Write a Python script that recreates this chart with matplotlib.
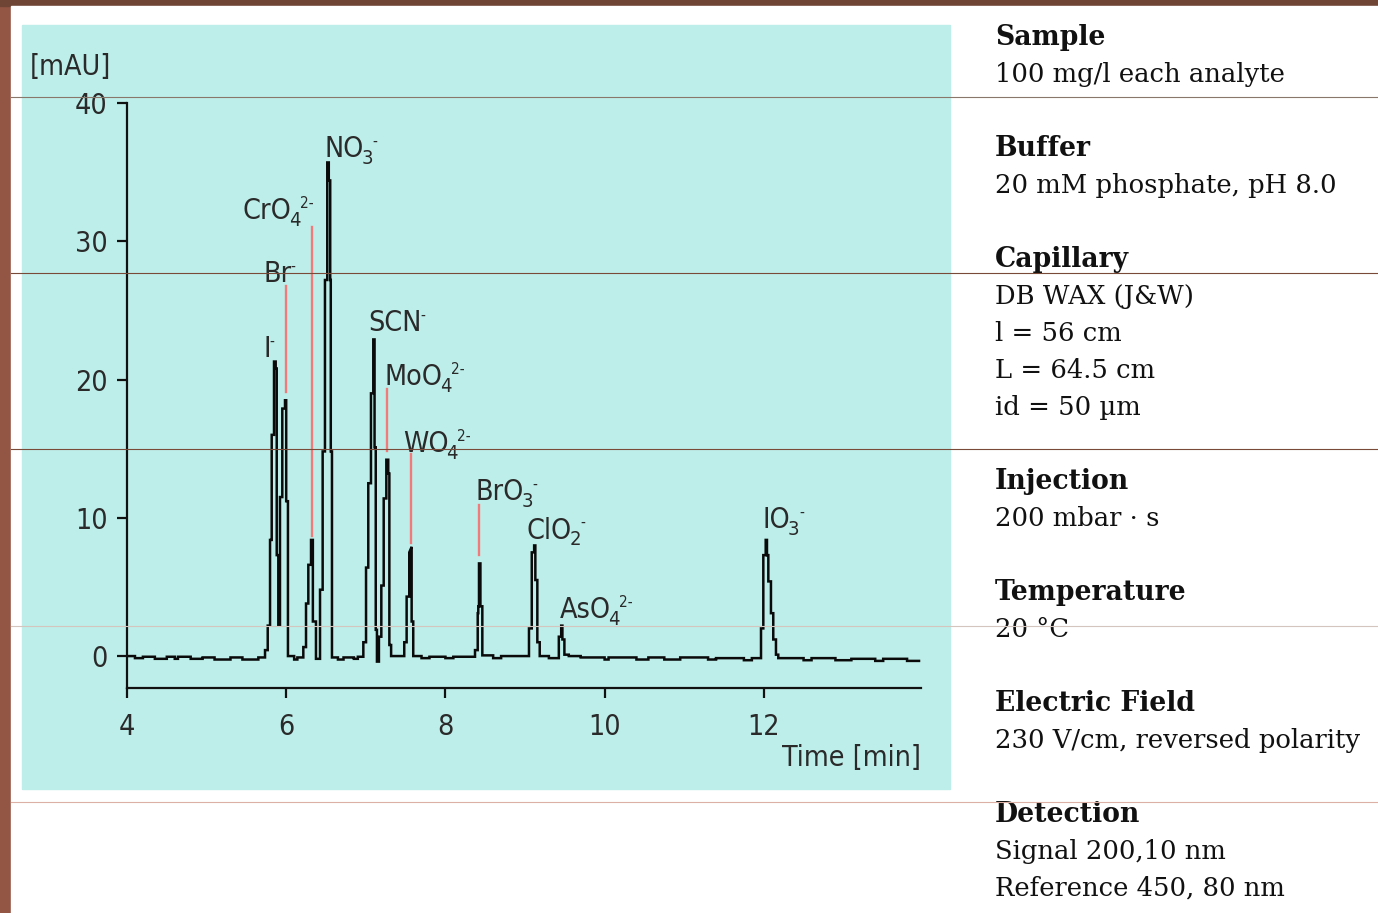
import matplotlib
matplotlib.use('Agg')
import matplotlib.pyplot as plt
from matplotlib import font_manager as fm
from matplotlib.lines import Line2D
from matplotlib.patches import Rectangle

# ---------------- data ----------------
TIME = [4.00, 4.10, 4.10, 4.20, 4.20, 4.35, 4.35, 4.50, 4.50, 4.60, 4.60, 4.64, 4.64, 4.80, 4.80, 4.95, 4.95,
        5.10, 5.10, 5.30, 5.30, 5.45, 5.45, 5.65, 5.65, 5.734,
        # I- / Br-
        5.734, 5.768, 5.768, 5.797, 5.797, 5.818, 5.818, 5.847, 5.847, 5.868, 5.868, 5.881, 5.881, 5.901, 5.901,
        5.922, 5.922, 5.951, 5.951, 5.985, 5.985, 6.000, 6.000, 6.022, 6.022,
        6.10, 6.10, 6.14, 6.14, 6.215,
        # CrO4 2- / NO3-
        6.215, 6.249, 6.249, 6.278, 6.278, 6.312, 6.312, 6.335, 6.335, 6.374, 6.374, 6.425, 6.425, 6.458, 6.458,
        6.487, 6.487, 6.516, 6.516, 6.535, 6.535, 6.553, 6.553, 6.560, 6.560, 6.575, 6.575,
        6.65, 6.65, 6.72, 6.72, 6.85, 6.85, 6.90, 6.90, 6.969,
        # SCN- / MoO4 2-
        6.969, 7.003, 7.003, 7.031, 7.031, 7.065, 7.065, 7.094, 7.094, 7.110, 7.110, 7.125, 7.125, 7.140, 7.140,
        7.165, 7.165, 7.195, 7.195, 7.225, 7.225, 7.258, 7.258, 7.282, 7.282, 7.296, 7.296, 7.318, 7.318,
        7.483,
        # WO4 2-
        7.483, 7.513, 7.513, 7.546, 7.546, 7.576, 7.576, 7.596, 7.596,
        7.70, 7.70, 7.80, 7.80, 8.00, 8.00, 8.10, 8.10, 8.372,
        # BrO3-
        8.372, 8.406, 8.406, 8.413, 8.413, 8.422, 8.422, 8.440, 8.440, 8.464, 8.464,
        8.60, 8.60, 8.70, 8.70, 9.050,
        # ClO2-
        9.050, 9.085, 9.085, 9.115, 9.115, 9.130, 9.130, 9.155, 9.155, 9.185, 9.185,
        9.30, 9.30, 9.425,
        # AsO4 2-
        9.425, 9.455, 9.455, 9.470, 9.470, 9.495, 9.495, 9.55, 9.55, 9.70, 9.70,
        10.00, 10.00, 10.05, 10.05, 10.40, 10.40, 10.55, 10.55, 10.75, 10.75, 10.95, 10.95,
        11.30, 11.30, 11.40, 11.40, 11.75, 11.75, 11.85, 11.85, 11.965,
        # IO3-
        11.965, 11.994, 11.994, 12.024, 12.024, 12.040, 12.040, 12.057, 12.057, 12.090, 12.090, 12.119, 12.119,
        12.153, 12.153, 12.182, 12.182,
        12.50, 12.50, 12.60, 12.60, 12.90, 12.90, 13.10, 13.10, 13.40, 13.40, 13.50, 13.50, 13.80, 13.80, 13.95]

SIGNAL = [0.00, 0.00, -0.15, -0.15, -0.05, -0.05, -0.20, -0.20, -0.05, -0.05, -0.20, -0.20, -0.05, -0.05, -0.20, -0.20, -0.10,
          -0.10, -0.25, -0.25, -0.10, -0.10, -0.25, -0.25, -0.10, -0.10,
          0.43, 0.43, 2.20, 2.20, 8.40, 8.40, 16.0, 16.0, 21.3, 21.3, 20.8, 20.8, 7.30, 7.30, 2.20,
          2.20, 11.5, 11.5, 17.9, 17.9, 18.5, 18.5, 11.2, 11.2, 0.00,
          0.00, -0.25, -0.25, -0.10, -0.10,
          0.65, 0.65, 3.80, 3.80, 6.60, 6.60, 8.40, 8.40, 2.50, 2.50, -0.20, -0.20, 4.80, 4.80, 14.8,
          14.8, 27.2, 27.2, 35.7, 35.7, 34.4, 34.4, 27.2, 27.2, 14.8, 14.8, -0.10,
          -0.10, -0.25, -0.25, -0.10, -0.10, -0.20, -0.20, -0.05, -0.05,
          1.00, 1.00, 6.40, 6.40, 12.5, 12.5, 19.0, 19.0, 22.9, 22.9, 15.1, 15.1, 1.90, 1.90, -0.40,
          -0.40, 1.40, 1.40, 5.10, 5.10, 11.4, 11.4, 14.2, 14.2, 13.2, 13.2, 0.80, 0.80, 0.00,
          0.00,
          1.00, 1.00, 4.30, 4.30, 7.50, 7.90, 2.50, 2.50, 0.00,
          0.00, -0.15, -0.15, -0.05, -0.05, -0.15, -0.15, -0.05, -0.05,
          0.43, 0.43, 3.10, 3.10, 3.60, 3.60, 6.70, 6.70, 3.60, 3.60, 0.05,
          0.05, -0.15, -0.15, 0.00, 0.00,
          2.00, 2.00, 7.50, 7.50, 8.00, 8.00, 5.50, 5.50, 1.00, 1.00, 0.00,
          0.00, -0.15, -0.15,
          1.40, 1.40, 2.20, 2.20, 1.20, 1.20, 0.10, 0.10, 0.00, 0.00, -0.10,
          -0.10, -0.25, -0.25, -0.10, -0.10, -0.25, -0.25, -0.10, -0.10, -0.25, -0.25, -0.10,
          -0.10, -0.25, -0.25, -0.15, -0.15, -0.30, -0.30, -0.15, -0.15,
          2.00, 2.00, 7.30, 7.30, 8.40, 8.40, 7.30, 7.30, 5.40, 5.40, 3.10, 3.10, 1.20,
          1.20, 0.10, 0.10, -0.15,
          -0.15, -0.30, -0.30, -0.15, -0.15, -0.30, -0.30, -0.20, -0.20, -0.35, -0.35, -0.20, -0.20, -0.35, -0.35]

# peak names: base text, subscript, superscript (charge)
LABEL_BASE = ['I', 'Br', 'CrO', 'NO', 'SCN', 'MoO', 'WO', 'BrO', 'ClO', 'AsO', 'IO']
LABEL_SUB = ['', '', '4', '3', '', '4', '4', '3', '2', '4', '3']
LABEL_SUP = ['-', '-', '2-', '-', '-', '2-', '2-', '-', '-', '2-', '-']
# label anchor (time, mAU) – left/baseline of each peak name
LABEL_T = [5.709, 5.709, 5.457, 6.487, 7.028, 7.241, 7.467, 8.384, 9.025, 9.44, 11.99]
LABEL_V = [21.6, 27.05, 31.6, 36.1, 23.5, 19.6, 14.76, 11.3, 8.5, 2.75, 9.26]

MARK_T = [6.000, 6.325, 7.270, 7.570, 8.420]
MARK_LO = [19.1, 8.7, 14.8, 8.2, 7.3]
MARK_HI = [26.8, 31.0, 19.3, 14.6, 10.9]

X_TICKS = [4, 6, 8, 10, 12]
Y_TICKS = [0, 10, 20, 30, 40]

INFO = [("Sample", ["100 mg/l each analyte"]),
        ("Buffer", ["20 mM phosphate, pH 8.0"]),
        ("Capillary", ["DB WAX (J&W)", "l = 56 cm", "L = 64.5 cm", "id = 50 µm"]),
        ("Injection", ["200 mbar · s"]),
        ("Temperature", ["20 °C"]),
        ("Electric Field", ["230 V/cm, reversed polarity"]),
        ("Detection", ["Signal 200,10 nm", "Reference 450, 80 nm"])]

# ---------------- fonts ----------------
entries = fm.fontManager.ttflist
names = {f.name for f in entries}
if 'Liberation Sans Narrow' in names:
    sans = dict(family='Liberation Sans Narrow', stretch='normal')
elif any(f.name == 'DejaVu Sans' and f.stretch == 'condensed' for f in entries):
    sans = dict(family='DejaVu Sans', stretch='condensed')
elif 'Liberation Sans' in names:
    sans = dict(family='Liberation Sans', stretch='normal')
else:
    sans = dict(family='DejaVu Sans', stretch='normal')
plt.rcParams['font.family'] = sans['family']
plt.rcParams['font.stretch'] = sans['stretch']

TXT = '#2a2a2a'
FS = 20.5

W, H = 1378, 913
fig = plt.figure(figsize=(W / 100, H / 100), dpi=100)
fig.patch.set_facecolor('#935544')

def fx(px):
    return px / W

def fy(py):
    return 1 - py / H

# background panels
fig.add_artist(Rectangle((0, fy(6)), 1, 1 - fy(6), transform=fig.transFigure, color='#6f4535', zorder=0))
fig.add_artist(Rectangle((fx(11), 0), 1 - fx(11), fy(6), transform=fig.transFigure, color='white', zorder=0))
fig.add_artist(Rectangle((fx(22), fy(789)), fx(950) - fx(22), fy(25) - fy(789), transform=fig.transFigure,
                         color='#bdeee9', zorder=0))

# axes
ax = fig.add_axes([fx(127), fy(688), fx(921) - fx(127), fy(103) - fy(688)])
ax.patch.set_visible(False)
ax.set_xlim(4, 13.975)
ax.set_ylim(-2.31, 40)
for s in ['top', 'right']:
    ax.spines[s].set_visible(False)
for s in ['left', 'bottom']:
    ax.spines[s].set_linewidth(1.6)
    ax.spines[s].set_color('#111111')
ax.set_xticks(X_TICKS)
ax.set_yticks(Y_TICKS)
ax.tick_params(axis='both', width=1.6, length=7, color='#111111', labelsize=FS, labelcolor=TXT)
ax.tick_params(axis='x', pad=11)
ax.tick_params(axis='y', pad=7)

ax.plot(TIME, SIGNAL, color='#0a0a0a', lw=1.8, solid_joinstyle='miter')

for t, lo, hi in zip(MARK_T, MARK_LO, MARK_HI):
    ax.plot([t, t], [lo, hi], color='#f27a7a', lw=1.7)

for b, sb, sp, t, v in zip(LABEL_BASE, LABEL_SUB, LABEL_SUP, LABEL_T, LABEL_V):
    base = ax.text(t, v, b, fontsize=FS, color=TXT, ha='left', va='baseline')
    last = base
    if sb:
        last = ax.annotate(sb, xy=(1, v), xycoords=(base, 'data'), xytext=(-1.8, -5),
                           textcoords='offset points', fontsize=14.5, color=TXT, ha='left', va='baseline')
    ax.annotate(sp, xy=(1, v), xycoords=(last, 'data'), xytext=(-0.5, 16.8),
                textcoords='offset points', fontsize=11, color=TXT, ha='left', va='top')

fig.text(fx(30), fy(75), '[mAU]', fontsize=FS, color=TXT, ha='left', va='baseline')
fig.text(fx(921), fy(766), 'Time [min]', fontsize=FS, color=TXT, ha='right', va='baseline')

# info column
k = 0
for head, lines in INFO:
    fig.text(fx(995), fy(45 + 37 * k), head, family='DejaVu Serif', fontstretch='normal', fontweight='bold',
             fontsize=19.2, color='#111111', ha='left', va='baseline')
    k += 1
    for ln in lines:
        fig.text(fx(995), fy(45 + 37 * k), ln, family='DejaVu Serif', fontstretch='normal', fontsize=18.6,
                 color='#111111', ha='left', va='baseline')
        k += 1
    k += 1

# thin horizontal rules crossing the slide
for py, col in [(97, '#8a776c'), (273, '#7a4a38'), (449, '#7a4a38'), (626, '#d4c6bf'), (802, '#dcb0a5')]:
    fig.add_artist(Line2D([fx(11), 1], [fy(py), fy(py)], transform=fig.transFigure, color=col, lw=0.8, zorder=10))

fig.savefig('out.png', dpi=100)
